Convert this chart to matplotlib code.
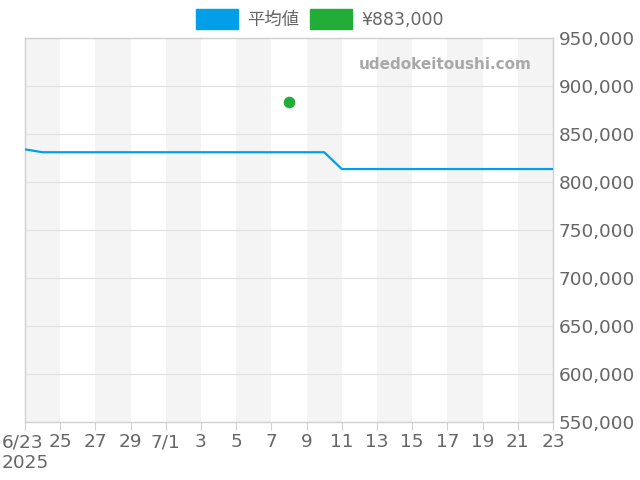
import matplotlib.pyplot as plt
import matplotlib.patches as mpatches
import numpy as np
import datetime as dt

# データ
avg_dates = ['2025-06-23', '2025-06-24', '2025-07-10', '2025-07-11', '2025-07-23']
avg_values = [834000, 831000, 831000, 813500, 813500]
point_dates = ['2025-07-08']
point_values = [883000]
tick_labels = ['6/23\n2025', '25', '27', '29', '7/1', '3', '5', '7', '9', '11',
               '13', '15', '17', '19', '21', '23']

blue = '#009fe8'
green = '#22ac38'
text_color = '#666666'

plt.rcParams['font.family'] = ['DejaVu Sans', 'Noto Sans CJK JP']

fig = plt.figure(figsize=(6.4, 4.8), dpi=100)
ax = fig.add_axes([25 / 640, 1 - 422 / 480, 528 / 640, 384 / 480])

to_dt = lambda s: dt.datetime.strptime(s, '%Y-%m-%d')
x_avg = [to_dt(d) for d in avg_dates]
x_pt = [to_dt(d) for d in point_dates]

start = to_dt('2025-06-23')
end = to_dt('2025-07-23')

# 背景の縞
d = start
while d < end:
    ax.axvspan(d, d + dt.timedelta(days=2), color='#f4f4f4', lw=0, zorder=0)
    d += dt.timedelta(days=4)

ax.plot(x_avg, avg_values, color=blue, lw=1.6, zorder=3)
ax.scatter(x_pt, point_values, color=green, s=70, zorder=4, lw=0)

ax.set_xlim(start, end)
ax.set_ylim(550000, 950000)
ax.set_yticks(np.arange(550000, 950001, 50000))
ax.yaxis.tick_right()
ax.yaxis.set_major_formatter(plt.FuncFormatter(lambda v, p: f'{int(v):,}'))
ax.grid(axis='y', color='#e0e0e0', lw=0.8, zorder=1)
ax.set_axisbelow(True)

ticks = [start + dt.timedelta(days=2 * i) for i in range(16)]
ax.set_xticks(ticks)
ax.set_xticklabels(tick_labels)
ax.get_xticklabels()[0].set_multialignment('left')

ax.tick_params(axis='x', colors='#d0d0d0', labelcolor=text_color, labelsize=13.3, length=6, pad=2)
ax.tick_params(axis='y', length=0, labelcolor=text_color, labelsize=13.3, pad=4)

for s in ax.spines.values():
    s.set_color('#d0d0d0')
    s.set_linewidth(1)

ax.text(0.96, 0.93, 'udedokeitoushi.com', transform=ax.transAxes, ha='right', va='center',
        fontsize=11, fontweight='bold', color='#a8a8a8', zorder=5)

handles = [mpatches.Patch(color=blue, label='平均値'),
           mpatches.Patch(color=green, label='¥883,000')]
fig.legend(handles=handles, loc='center', bbox_to_anchor=(0.5, 1 - 19 / 480), ncol=2, frameon=False,
           fontsize=12.5, labelcolor=text_color, handlelength=2.4, handleheight=1.45,
           handletextpad=0.55, columnspacing=0.6, borderpad=0.2)

fig.savefig('out.png', dpi=100)
